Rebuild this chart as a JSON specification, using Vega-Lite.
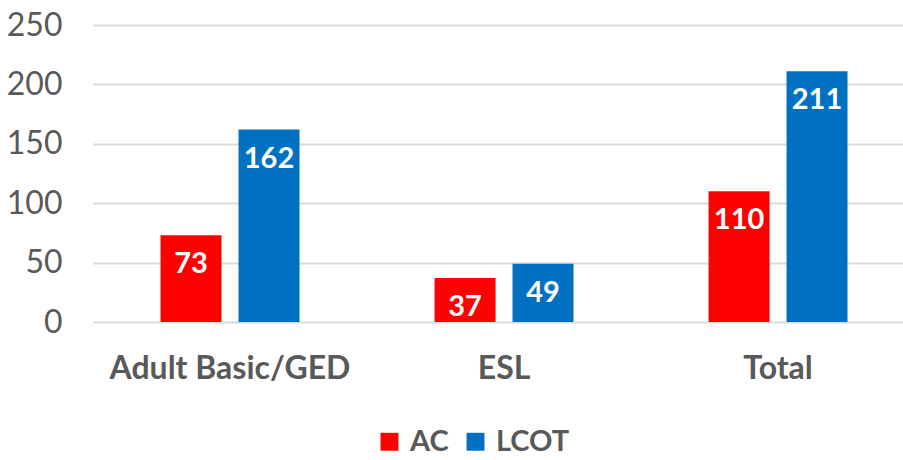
{
  "$schema": "https://vega.github.io/schema/vega-lite/v6.json",
  "width": 810,
  "height": 297,
  "autosize": "none",
  "padding": {"left": 93, "top": 25, "right": 0, "bottom": 138},
  "background": "white",
  "data": {
    "values": [
      {"category": "Adult Basic/GED", "series": "AC", "value": 73},
      {"category": "Adult Basic/GED", "series": "LCOT", "value": 162},
      {"category": "ESL", "series": "AC", "value": 37},
      {"category": "ESL", "series": "LCOT", "value": 49},
      {"category": "Total", "series": "AC", "value": 110},
      {"category": "Total", "series": "LCOT", "value": 211}
    ]
  },
  "encoding": {
    "x": {
      "field": "category", "type": "nominal", "sort": null,
      "scale": {"paddingInner": 0.493, "paddingOuter": 0.2245, "align": 0.549},
      "axis": {"title": null, "labelAngle": 0, "domain": false, "ticks": false, "labelLimit": 0, "labelFont": "Lato", "labelFontSize": 32, "labelFontWeight": "bold", "labelColor": "#595959", "labelPadding": 31}
    },
    "xOffset": {"field": "series", "type": "nominal", "scale": {"paddingInner": 0.218, "paddingOuter": 0}},
    "y": {
      "field": "value", "type": "quantitative",
      "scale": {"domain": [0, 250], "nice": false},
      "axis": {"title": null, "values": [0, 50, 100, 150, 200, 250], "domain": false, "ticks": false, "gridColor": "#D9D9D9", "gridWidth": 2, "labelFont": "Lato", "labelFontSize": 32, "labelColor": "#595959", "labelPadding": 31}
    }
  },
  "layer": [
    {
      "mark": {"type": "bar"},
      "encoding": {
        "color": {
          "field": "series", "type": "nominal",
          "scale": {"domain": ["AC", "LCOT"], "range": ["#FF0000", "#0070C0"]},
          "legend": {"title": null, "orient": "none", "direction": "horizontal", "legendX": 282, "legendY": 402, "symbolType": "square", "symbolSize": 320, "symbolStrokeWidth": 0, "labelFont": "Lato", "labelFontSize": 29, "labelFontWeight": "bold", "labelColor": "#595959", "columnPadding": 12, "labelOffset": 6}
        }
      }
    },
    {
      "mark": {"type": "text", "baseline": "middle", "dy": 29, "color": "white", "font": "Lato", "fontSize": 29, "fontWeight": "bold"},
      "encoding": {"text": {"field": "value", "type": "quantitative"}}
    }
  ],
  "config": {"view": {"stroke": null}}
}
